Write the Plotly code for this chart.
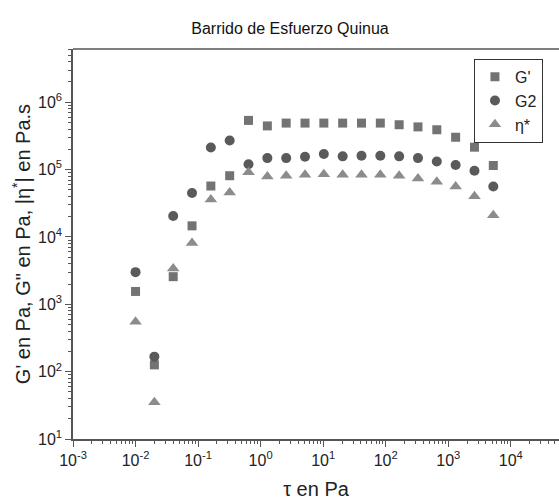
import plotly.graph_objects as go

tau = [0.01, 0.02, 0.04, 0.08, 0.16, 0.32, 0.64, 1.28, 2.56, 5.12, 10.24, 20.48,
       40.96, 81.92, 163.84, 327.68, 655.36, 1310.72, 2621.44, 5242.88]
g_prime = [1550, 126, 2570, 14600, 57000, 81000, 537000, 445000, 490000, 490000,
           490000, 490000, 490000, 490000, 463000, 430000, 390000, 302000, 215000, 115000]
g2 = [3000, 167, 20500, 45000, 213000, 270000, 120000, 148000, 148000, 155000,
      170000, 157000, 160000, 160000, 157000, 148000, 132000, 117000, 96000, 56000]
eta = [550, 35, 3400, 8100, 36000, 45500, 91000, 79000, 81000, 84000,
       85000, 84000, 84000, 84000, 81000, 74000, 66000, 56000, 40000, 21000]

x_ticks = [1e-3, 1e-2, 1e-1, 1, 10, 100, 1000, 10000]
x_labels = ["10<sup>-3</sup>", "10<sup>-2</sup>", "10<sup>-1</sup>", "10<sup>0</sup>",
            "10<sup>1</sup>", "10<sup>2</sup>", "10<sup>3</sup>", "10<sup>4</sup>"]
y_ticks = [1e1, 1e2, 1e3, 1e4, 1e5, 1e6]
y_labels = ["10<sup>1</sup>", "10<sup>2</sup>", "10<sup>3</sup>", "10<sup>4</sup>",
            "10<sup>5</sup>", "10<sup>6</sup>"]

def minor_vals(lo, hi):
    out = []
    for e in range(lo, hi + 1):
        for m in range(2, 10):
            out.append(m * 10.0 ** e)
    return out

fig = go.Figure()
fig.add_trace(go.Scatter(x=tau, y=g_prime, mode="markers", name="G'",
                         marker=dict(symbol="square", size=9, color="#737373")))
fig.add_trace(go.Scatter(x=tau, y=g2, mode="markers", name="G2",
                         marker=dict(symbol="circle", size=10, color="#5a5a5a")))
fig.add_trace(go.Scatter(x=tau, y=eta, mode="markers", name="η*",
                         marker=dict(symbol="triangle-up", size=11, color="#8c8c8c")))

font = "Liberation Sans, Arial, sans-serif"
fig.add_shape(type="line", xref="paper", yref="paper", x0=0, x1=1, y0=1, y1=1,
              line=dict(color="#555555", width=1.5))
fig.update_layout(
    width=559, height=502,
    margin=dict(l=73, r=0, t=49, b=63),
    paper_bgcolor="white", plot_bgcolor="white",
    font=dict(family=font, color="#222222", size=13),
    title=dict(text="Barrido de Esfuerzo Quinua", x=290 / 559, xanchor="center",
               y=1 - 28 / 502, yanchor="middle", yref="container",
               font=dict(size=16, color="#111111")),
    showlegend=True,
    legend=dict(x=0.825, y=0.975, xanchor="left", yanchor="top",
                bordercolor="#333333", borderwidth=1, bgcolor="white",
                font=dict(size=16), tracegroupgap=0),
    xaxis=dict(type="log", range=[-3, 4.77], showgrid=False, zeroline=False,
               showline=True, linecolor="#555555", linewidth=1.5,
               ticks="outside", ticklen=6, tickcolor="#555555",
               tickvals=x_ticks, ticktext=x_labels, tickfont=dict(size=16),
               minor=dict(tickvals=minor_vals(-3, 4), ticks="outside", ticklen=3,
                          tickcolor="#555555", showgrid=False),
               title=dict(text="τ en Pa", font=dict(size=20), standoff=14)),
    yaxis=dict(type="log", range=[1, 6.79], showgrid=False, zeroline=False,
               showline=True, linecolor="#555555", linewidth=1.5,
               ticks="outside", ticklen=6, tickcolor="#555555",
               tickvals=y_ticks, ticktext=y_labels, tickfont=dict(size=16),
               minor=dict(tickvals=minor_vals(1, 6), ticks="outside", ticklen=3,
                          tickcolor="#555555", showgrid=False),
               title=dict(text="G' en Pa, G\" en Pa, |η<sup>*</sup>| en Pa.s",
                          font=dict(size=20), standoff=2)),
)

fig.write_html("out.html")
